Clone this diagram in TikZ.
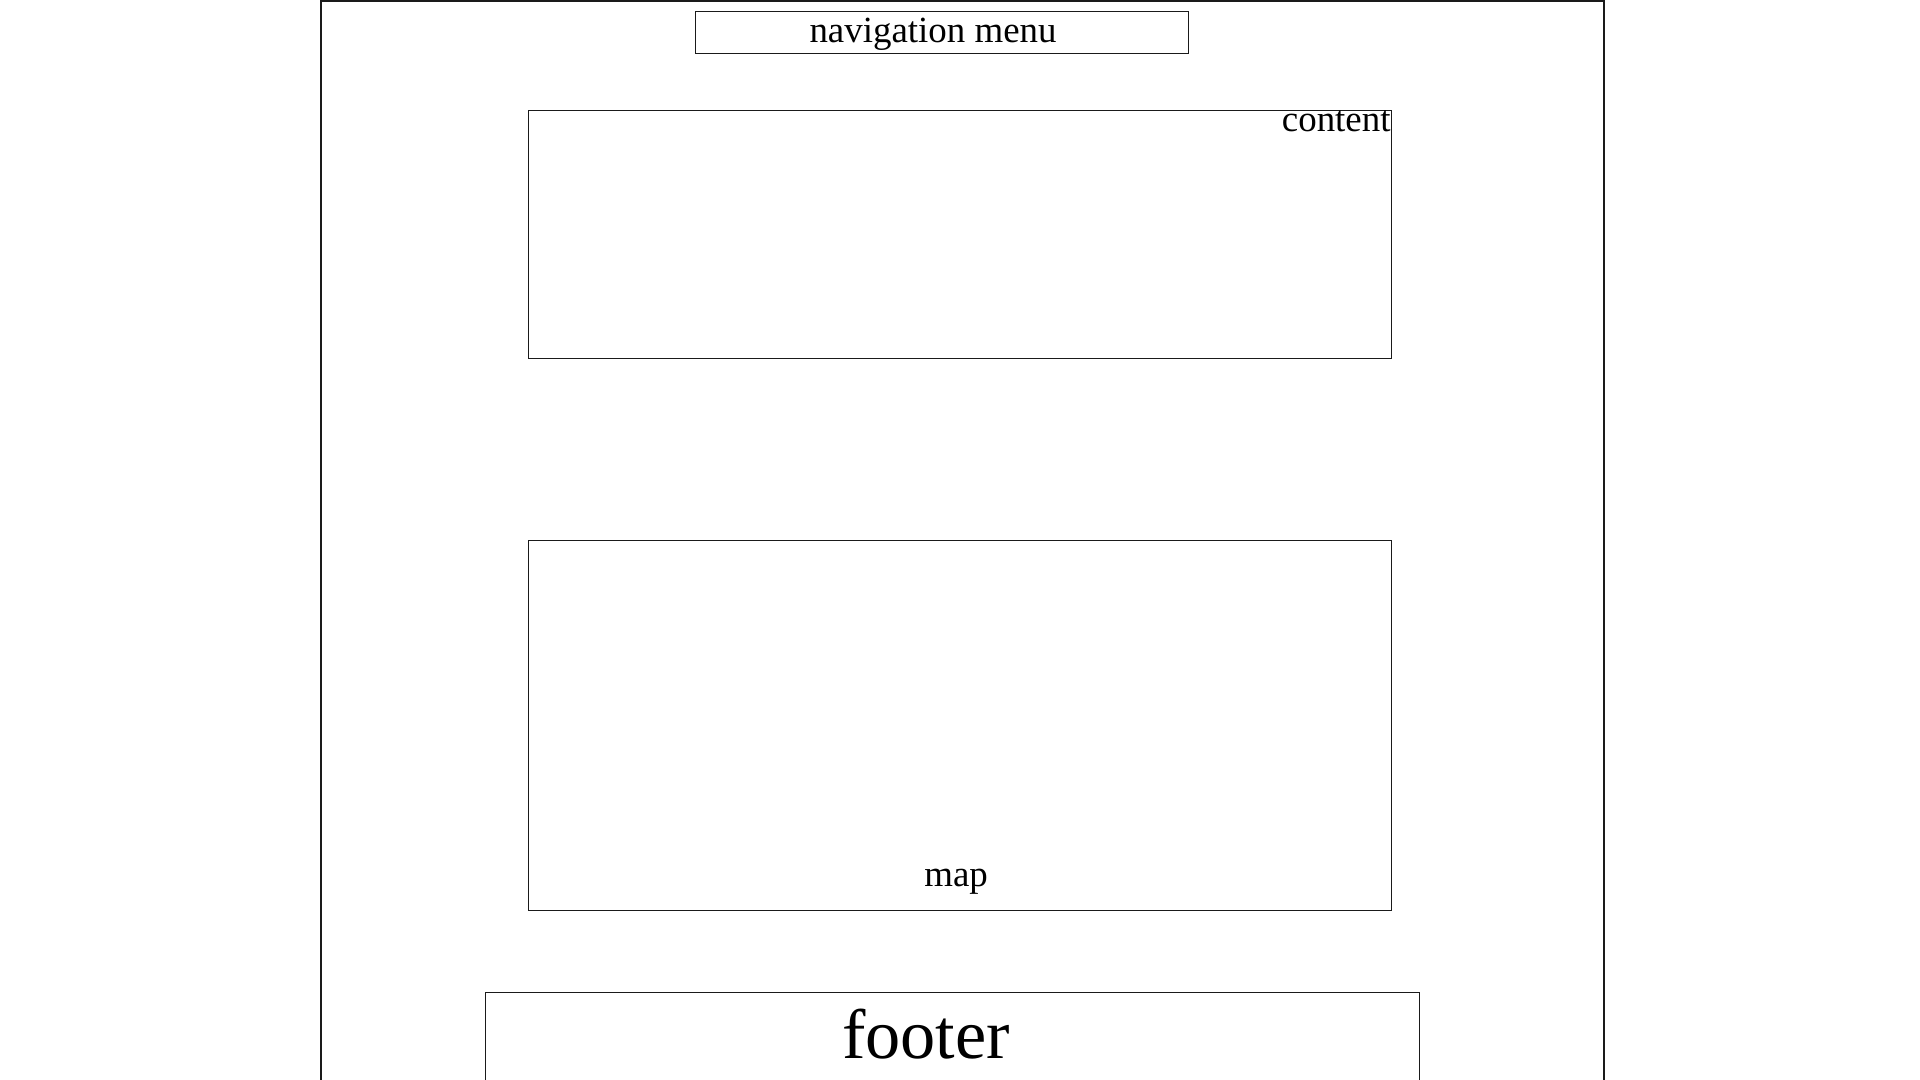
\documentclass[tikz,border=0pt]{standalone}
\usepackage{fontspec}
\setmainfont{Liberation Serif}
\usepackage{tikz}
\usepackage{xcolor}
\usetikzlibrary{positioning,calc}
\definecolor{ink}{HTML}{1A1A1A}
\tikzset{
  pageframe/.style={draw=ink, line width=0.35pt},
  panel/.style={
    draw=ink, line width=0.35pt, rectangle,
    inner sep=0pt, anchor=north west
  },
  panellabel/.style={inner sep=0pt, font=\fontsize{10.5}{12}\selectfont},
  bigtag/.style={inner sep=0pt, font=\fontsize{20}{24}\selectfont}
}

\begin{document}
\begin{tikzpicture}
  \useasboundingbox (0,0) rectangle (19.2,-10.8);
  \clip (0,0) rectangle (19.2,-10.8);
  % page outline, open at the bottom
  \coordinate (pagebl) at (3.21,-11);
  \coordinate (pagetl) at (3.21,-0.01);
  \coordinate (pagetr) at (16.04,-0.01);
  \coordinate (pagebr) at (16.04,-11);
  \draw[pageframe] (pagebl) -- (pagetl) -- (pagetr) -- (pagebr);

  \node[panel, minimum width=4.93cm, minimum height=0.42cm] (navmenu) at (6.95,-0.11) {};
  \node[panellabel, anchor=base] (navtext) at (9.33,-0.43) {navigation menu};

  \node[panel, minimum width=8.63cm, minimum height=2.48cm] (content) at (5.28,-1.10) {};
  \node[panellabel, anchor=north east] (contenttext) at ([xshift=-0.01cm]content.north east) {content};

  \node[panel, minimum width=8.63cm, minimum height=3.70cm] (map) at (5.28,-5.40) {};
  \node[panellabel, anchor=base] (maptext) at ([xshift=-0.04cm,yshift=0.25cm]map.south) {map};

  \node[panel, minimum width=9.34cm, minimum height=1.5cm] (footer) at (4.85,-9.92) {};
  \node[bigtag, anchor=base] (footertext) at (9.26,-10.58) {footer};
\end{tikzpicture}
\end{document}
